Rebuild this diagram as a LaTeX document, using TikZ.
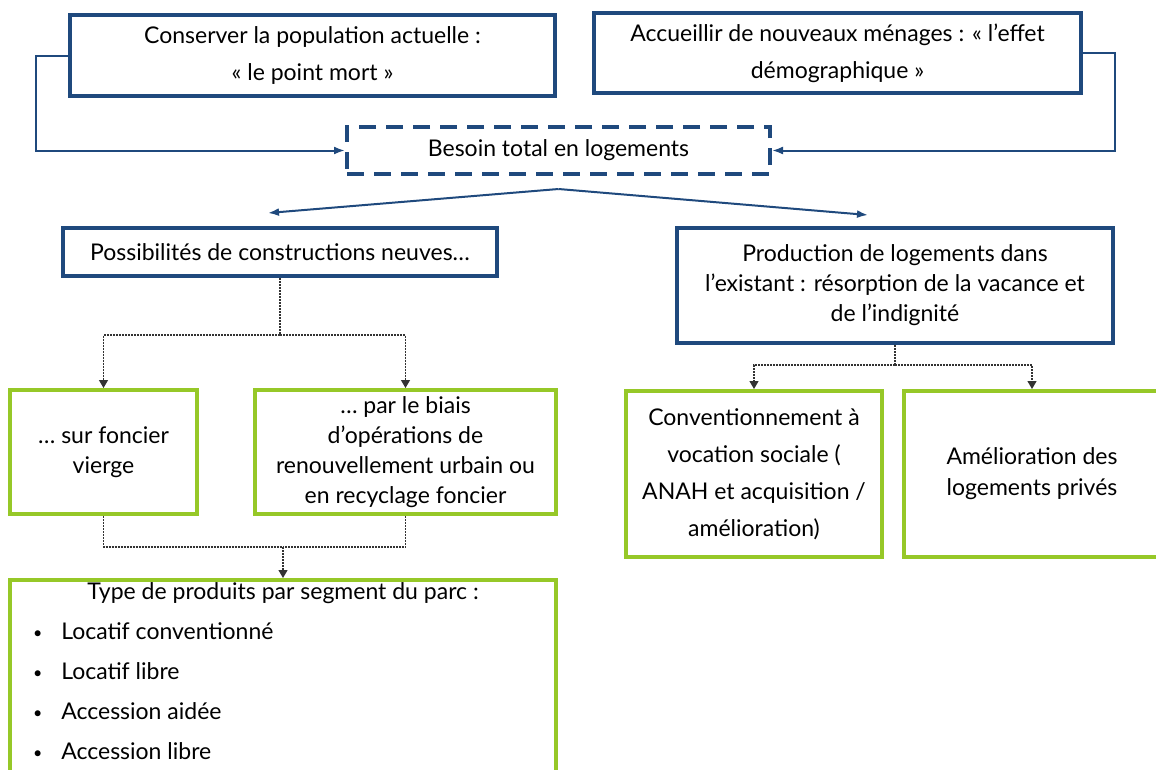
\documentclass[tikz,border=0pt]{standalone}
\usepackage{fontspec}
\setmainfont{Lato}
\usepackage{xcolor}
\usepackage{tikz}
\usetikzlibrary{arrows.meta,positioning,calc}
\definecolor{bleu}{RGB}{31,73,125}
\definecolor{vert}{RGB}{150,200,40}
\newcommand{\puce}{\hspace*{10pt}\raisebox{1pt}{\fontsize{16}{16}\selectfont•}\hspace{19pt}}

\begin{document}
\begin{tikzpicture}[x=1pt, y=-1pt,
    font=\fontsize{23}{37}\selectfont,
    bluebox/.style={draw=bleu, line width=4pt, align=center, inner sep=0pt},
    dashbox/.style={bluebox, dash pattern=on 17pt off 10pt},
    greenbox/.style={draw=vert, line width=4pt, align=center, inner sep=0pt},
    link/.style={draw=bleu, line width=2pt, -{Latex[length=11pt,width=8pt]}},
    dots/.style={draw=black!80, line width=1.2pt, dash pattern=on 2pt off 1pt},
    dotarrow/.style={dots, -{Triangle[length=8pt,width=9pt]}}]

    \clip (0,0) rectangle (1156,769);

    % top row
    \node[bluebox, minimum width=485pt, minimum height=81pt] (conserver) at (312.5,55.5)
        {Conserver la population actuelle :\\« le point mort »};
    \node[bluebox, minimum width=487pt, minimum height=80pt] (accueil) at (837.5,53)
        {Accueillir de nouveaux ménages : « l’effet\\démographique »};
    \node[dashbox, minimum width=423pt, minimum height=47pt] (besoin) at (558.5,150.5)
        {Besoin total en logements};

    \draw[link] (conserver.west) -- ++(-32,0) |- (besoin.west);
    \draw[link] (accueil.east) -- ++(32,0) |- (besoin.east);

    % the two ways of producing housing
    \node[bluebox, minimum width=434pt, minimum height=48pt] (neuves) at (280,252)
        {Possibilités de constructions neuves…};
    \node[bluebox, minimum width=436pt, minimum height=115pt, font=\fontsize{23}{30}\selectfont] (existant) at (895,285.5)
        {Production de logements dans\\l’existant : résorption de la vacance et\\de l’indignité};

    \coordinate (fan) at ([yshift=-13pt]besoin.south);
    \draw[link] (fan) -- ([xshift=-12pt,yshift=13pt]neuves.north);
    \draw[link] (fan) -- ([xshift=-27pt,yshift=11pt]existant.north);

    % new construction
    \node[greenbox, minimum width=187pt, minimum height=124pt, font=\fontsize{23}{30}\selectfont] (vierge) at (103.5,452)
        {… sur foncier\\vierge};
    \node[greenbox, minimum width=301pt, minimum height=124pt, font=\fontsize{23}{30}\selectfont] (renouv) at (405.5,452)
        {… par le biais\\d’opérations de\\renouvellement urbain ou\\en recyclage foncier};

    \coordinate (fork1) at (280,335);
    \draw[dots] (neuves.south) -- (fork1);
    \draw[dotarrow] (fork1) -| (vierge.north);
    \draw[dotarrow] (fork1) -| (renouv.north);

    \node[greenbox, anchor=north, minimum width=546pt, inner ysep=3pt,
          font=\fontsize{23}{40}\selectfont] (produits) at (283,578)
        {Type de produits par segment du parc :\\
         \makebox[520pt][l]{\puce Locatif conventionné}\\
         \makebox[520pt][l]{\puce Locatif libre}\\
         \makebox[520pt][l]{\puce Accession aidée}\\
         \makebox[520pt][l]{\puce Accession libre}\\
         \mbox{}};

    \coordinate (join1) at (283,547);
    \draw[dots] (vierge.south) |- (join1);
    \draw[dots] (renouv.south) |- (join1);
    \draw[dotarrow] (join1) -- (produits.north);

    % existing stock
    \node[greenbox, minimum width=256pt, minimum height=166pt] (convention) at (754,474)
        {Conventionnement à\\vocation sociale (\\ANAH et acquisition /\\amélioration)};
    \node[greenbox, minimum width=256pt, minimum height=166pt, font=\fontsize{23}{31}\selectfont] (amelio) at (1032,474)
        {Amélioration des\\logements privés};

    \coordinate (fork2) at (895,365);
    \draw[dots] (existant.south) -- (fork2);
    \draw[dotarrow] (fork2) -| (convention.north);
    \draw[dotarrow] (fork2) -| (amelio.north);
\end{tikzpicture}
\end{document}
